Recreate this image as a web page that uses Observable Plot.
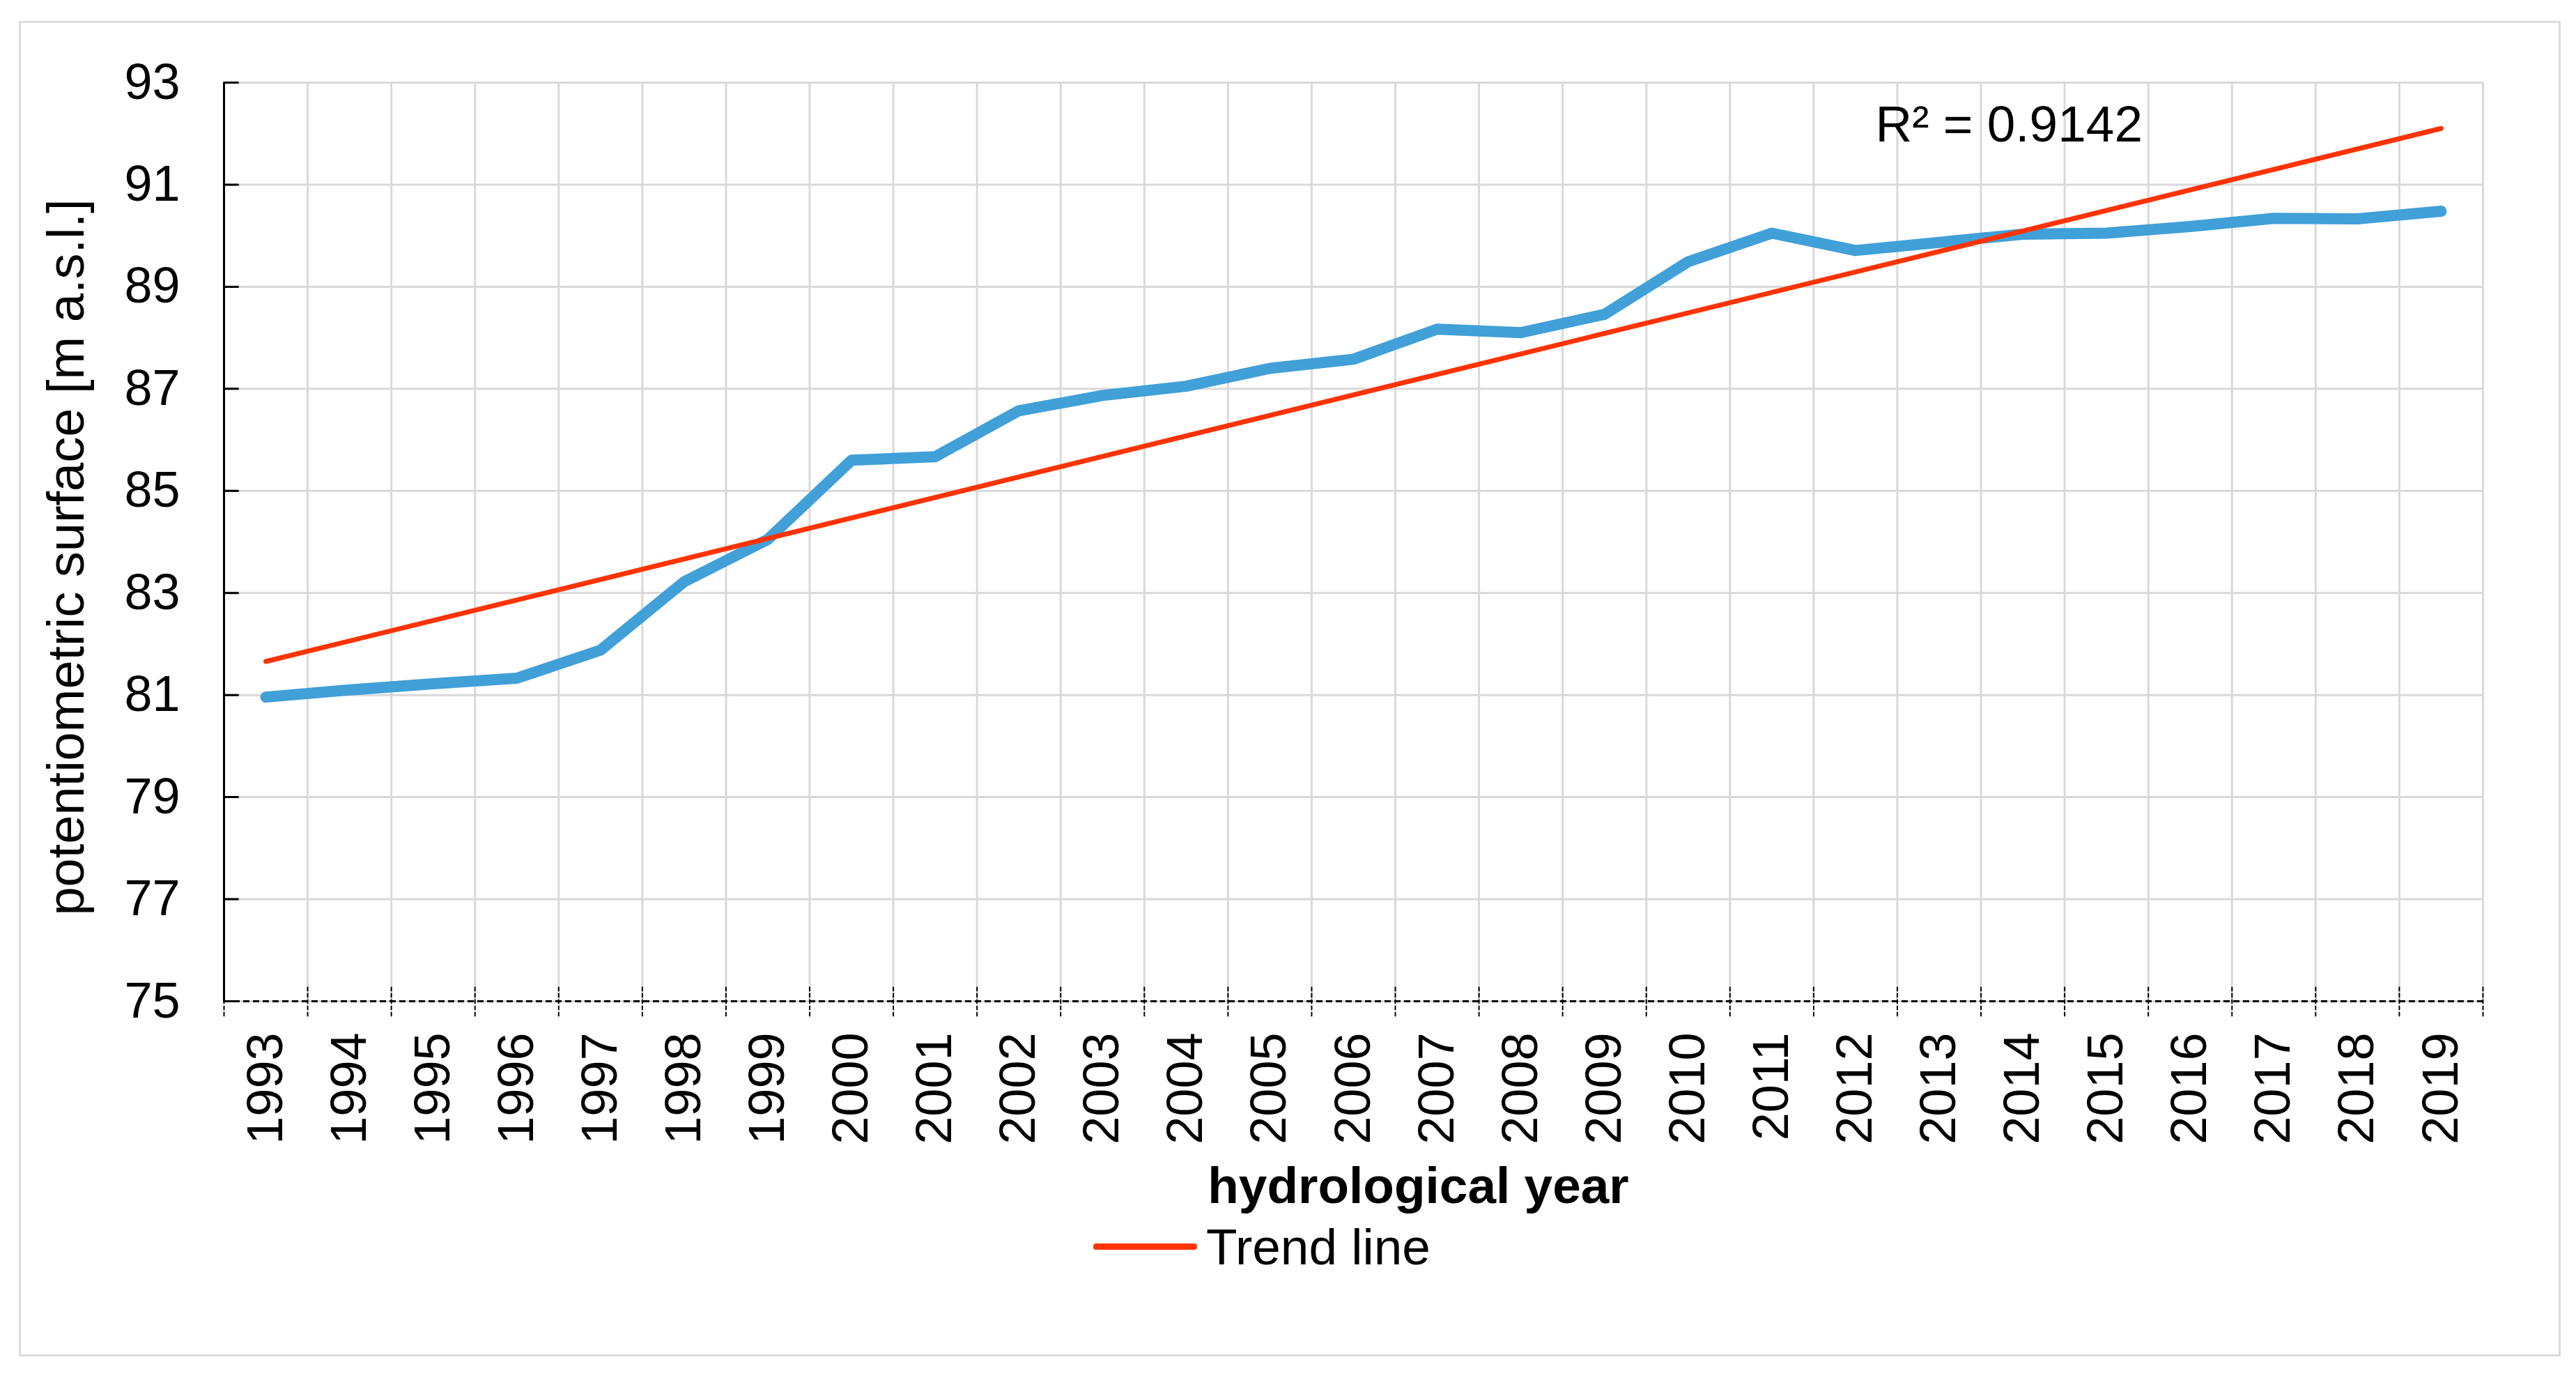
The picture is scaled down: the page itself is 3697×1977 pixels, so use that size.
<!DOCTYPE html>
<html>
<head>
<meta charset="utf-8">
<script src="https://cdn.jsdelivr.net/npm/d3@7"></script>
<script src="https://cdn.jsdelivr.net/npm/@observablehq/plot@0.6"></script>
<style>
  html, body { margin: 0; padding: 0; background: #fff; }
  #wrap { position: relative; width: 3697px; height: 1977px; background: #fff; overflow: hidden;
          font-family: "Liberation Sans", Arial, sans-serif; }
  #frame { position: absolute; left: 27px; top: 30px; width: 3642px; height: 1910px;
           border: 3px solid #dcdcdc; }
  #chart { position: absolute; left: 0; top: 0; }
  #legend { position: absolute; left: 1569px; top: 1752px; display: flex; align-items: center;
            gap: 13px; font-size: 73px; line-height: 1; color: #000; }
  #legend .sw { width: 149px; height: 9px; border-radius: 4px; }
</style>
</head>
<body>
<div id="wrap">
  <div id="frame"></div>
  <div id="chart"></div>
  <div id="legend"><span class="sw"></span><span class="lt"></span></div>
</div>
<script>
// ---- data ----
const years = [1993,1994,1995,1996,1997,1998,1999,2000,2001,2002,2003,2004,2005,2006,2007,2008,2009,2010,2011,2012,2013,2014,2015,2016,2017,2018,2019];
const levels = [80.96,81.10,81.22,81.33,81.88,83.22,84.05,85.60,85.67,86.57,86.87,87.05,87.40,87.58,88.17,88.10,88.46,89.49,90.05,89.71,89.87,90.03,90.05,90.18,90.34,90.33,90.48];
const yTicks = [75,77,79,81,83,85,87,89,91,93];
const yLabel = "potentiometric surface [m a.s.l.]";
const xLabel = "hydrological year";
const r2Label = "R² = 0.9142";
const legendLabel = "Trend line";

const seriesColor = "#41a0d8";
const trendColor = "#ff3300";
const gridColor = "#d9d9d9";

const data = years.map((year, i) => ({year, level: levels[i]}));
const bounds = years.map(y => y - 0.5).concat([years[years.length - 1] + 0.5]);
const xMin = bounds[0];

const line = {draw(context, l) { context.moveTo(0, 0); context.lineTo(0, -l); }};

const chart = Plot.plot({
  width: 3697,
  height: 1750,
  marginLeft: 321,
  marginRight: 134,
  marginTop: 118,
  marginBottom: 314,
  style: {fontFamily: '"Liberation Sans", Arial, sans-serif', background: "transparent", overflow: "visible", color: "#000"},
  x: {type: "linear", domain: [bounds[0], bounds[bounds.length - 1]]},
  y: {domain: [yTicks[0], yTicks[yTicks.length - 1]]},
  marks: [
    Plot.gridX(bounds, {stroke: gridColor, strokeOpacity: 1, strokeWidth: 3}),
    Plot.gridY(yTicks, {stroke: gridColor, strokeOpacity: 1, strokeWidth: 3}),
    Plot.axisY(yTicks, {tickSize: 0, tickPadding: 63, fontSize: 72, label: null, tickFormat: d => String(d)}),
    Plot.axisX(years, {tickSize: 0, tickPadding: 45, tickRotate: -90, fontSize: 72, label: null, tickFormat: d => String(d)}),
    // y axis line and inside tick marks
    Plot.ruleX([xMin], {stroke: "#000", strokeWidth: 3}),
    Plot.vector(yTicks, {x: () => xMin, y: d => d, rotate: 90, length: 20, anchor: "start", shape: line, stroke: "#000", strokeWidth: 3}),
    // dashed x axis line and dashed boundary ticks
    Plot.ruleY([yTicks[0]], {stroke: "#000", strokeWidth: 3, strokeDasharray: "9,5"}),
    Plot.vector(bounds, {x: d => d, y: () => yTicks[0], rotate: 0, length: 42, anchor: "middle", shape: line, stroke: "#000", strokeWidth: 2, strokeDasharray: "5,4"}),
    // series
    Plot.line(data, {x: "year", y: "level", stroke: seriesColor, strokeWidth: 16, strokeLinecap: "round", strokeLinejoin: "round"}),
    Plot.linearRegressionY(data, {x: "year", y: "level", stroke: trendColor, strokeWidth: 7, ci: 0}),
    // texts
    Plot.text([r2Label], {text: d => d, frameAnchor: "top-left", dx: 2370, dy: 84, textAnchor: "start", lineAnchor: "bottom", fontSize: 73, fill: "#000"}),
    Plot.text([yLabel], {text: d => d, frameAnchor: "left", rotate: -90, dx: -225, dy: 22, textAnchor: "middle", lineAnchor: "middle", fontSize: 74, fill: "#000"}),
    Plot.text([xLabel], {text: d => d, frameAnchor: "bottom", dx: 93, dy: 289, lineAnchor: "bottom", fontSize: 73, fontWeight: "bold", fill: "#000"})
  ]
});
document.getElementById("chart").appendChild(chart);
document.querySelector("#legend .sw").style.background = trendColor;
document.querySelector("#legend .lt").textContent = legendLabel;
</script>
</body>
</html>
